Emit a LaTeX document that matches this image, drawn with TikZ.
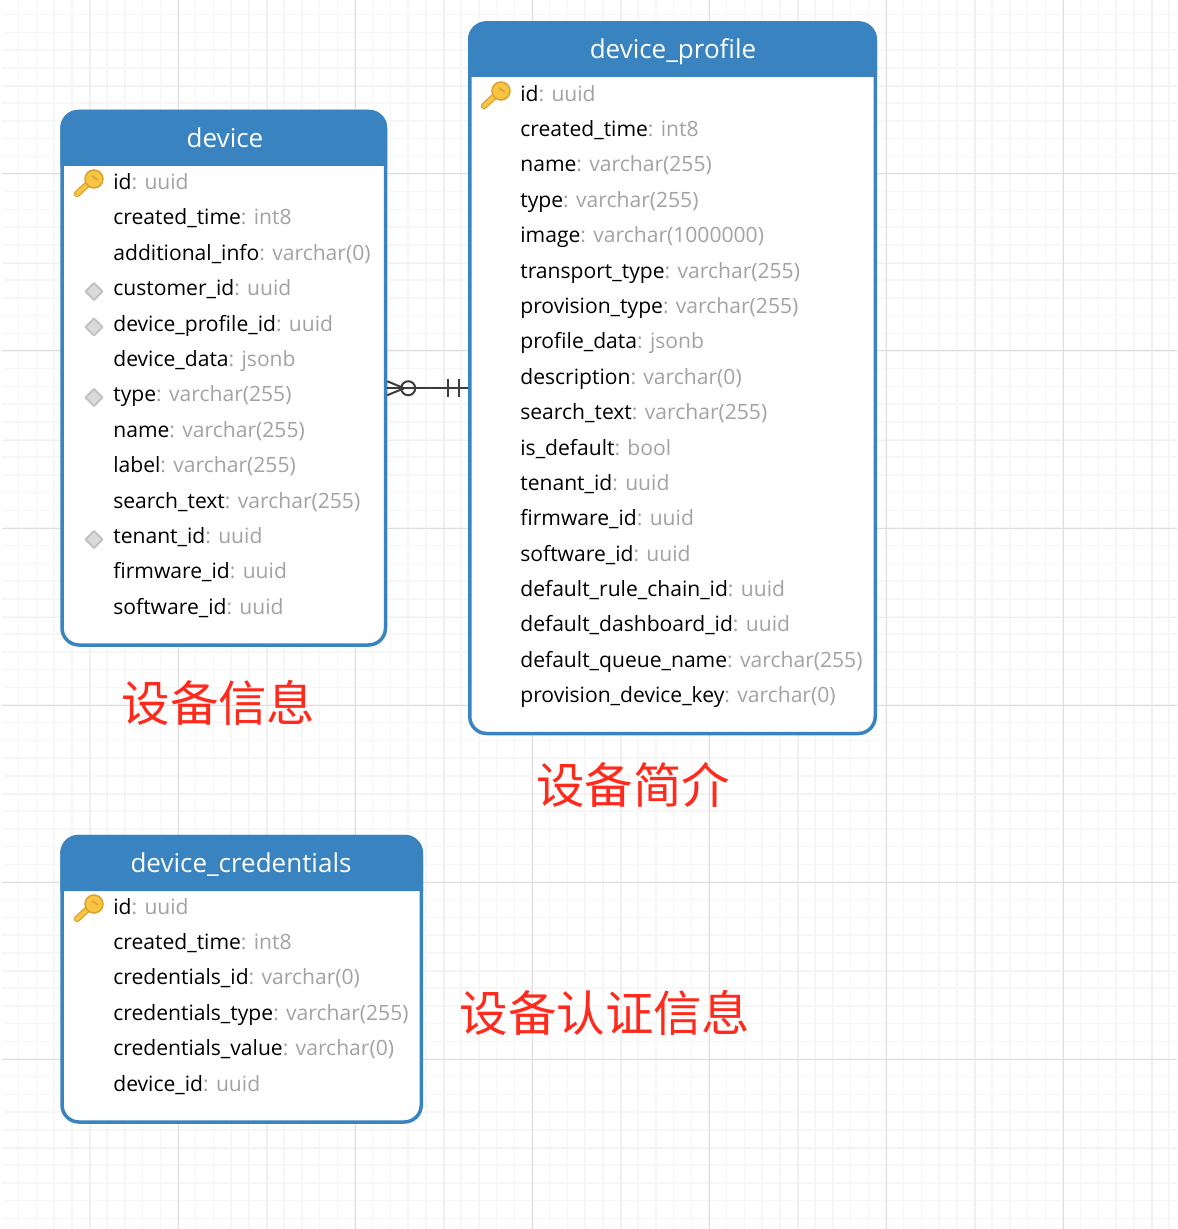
\documentclass[tikz,border=0pt]{standalone}
\usepackage{fontspec}
\setmainfont{Open Sans}
\newfontfamily\cjkfont{Noto Sans CJK SC}
\usetikzlibrary{calc}
\definecolor{tableblue}{HTML}{3983C0}
\definecolor{typegrey}{HTML}{A3A3A3}
\definecolor{keygold}{HTML}{F6C544}
\definecolor{keyedge}{HTML}{DDA02E}
\definecolor{fkfill}{HTML}{DADADA}
\definecolor{fkedge}{HTML}{C2C2C2}
\definecolor{linkgrey}{HTML}{3C3C3C}
\definecolor{labelred}{HTML}{FF2A1C}
\tikzset{
  tablebox/.style={draw=tableblue,line width=3.5*0.02cm,fill=white,rounded corners=17*0.02cm,inner sep=0pt,outer sep=0pt,anchor=north west},
  tabletitle/.style={text=white,anchor=base,font=\fontsize{14.8pt}{17pt}\selectfont},
  rowtext/.style={anchor=base west,inner sep=0pt,font=\fontsize{12pt}{15pt}\selectfont},
  cnlabel/.style={text=labelred,font=\cjkfont\fontsize{27.6pt}{32pt}\selectfont},
  linkline/.style={draw=linkgrey,line width=2*0.02cm},
  minorgrid/.style={draw=black!3.5,line width=1.5*0.02cm},
  midgrid/.style={draw=black!6,line width=1.5*0.02cm},
  majorgrid/.style={draw=black!13,line width=1*0.02cm},
  keyicon/.pic={
    \draw[keyedge,line width=6.5*0.02cm,line cap=round] (-12,10) -- (2,-3);
    \draw[keygold,line width=4*0.02cm,line cap=round] (-12,10) -- (2,-3);
    \fill[keygold,draw=keyedge,line width=1.5*0.02cm] (5,-5) circle (9);
    \draw[keyedge,line width=1.5*0.02cm] (3,-8) -- (9,-4);
  },
  fkicon/.pic={
    \fill[fkfill,draw=fkedge,line width=2*0.02cm,line join=round] (-8.5,0) -- (0,-8.5) -- (8.5,0) -- (0,8.5) -- cycle;
  }
}
\newcommand{\typ}[1]{\textcolor{typegrey}{#1}}
\begin{document}
\begin{tikzpicture}[x=0.02cm,y=-0.02cm]
\useasboundingbox (0,0) rectangle (1177,1229);
% grid
\foreach \x in {18.7,36.4,...,1177} \draw[minorgrid] (\x,0) -- (\x,1229);
\foreach \y in {14.7,32.4,...,1229} \draw[minorgrid] (2,\y) -- (1177,\y);
\foreach \x in {90,267,...,1177} \draw[midgrid] (\x,0) -- (\x,1229);
\foreach \y in {86.5,263.5,...,1229} \draw[midgrid] (2,\y) -- (1177,\y);
\foreach \x in {178,355,...,1177} \draw[majorgrid] (\x,0) -- (\x,1229);
\foreach \y in {174,351,...,1229} \draw[majorgrid] (2,\y) -- (1177,\y);

% device
\node[tablebox,minimum width=323.5*0.02cm,minimum height=533.5*0.02cm] (device) at (62,111.5) {};
\fill[tableblue] (60.3,166) [rounded corners=18*0.02cm] -- (60.3,109.8) -- (387.2,109.8) [sharp corners] -- (387.2,166) -- cycle;
\node[tabletitle] (devicetitle) at (225,148) {device};
\foreach \name/\type [count=\i from 0] in {id/uuid,created\_time/int8,additional\_info/varchar(0),customer\_id/uuid,device\_profile\_id/uuid,device\_data/jsonb,type/varchar(255),name/varchar(255),label/varchar(255),search\_text/varchar(255),tenant\_id/uuid,firmware\_id/uuid,software\_id/uuid}
  \node[rowtext] (device-\i) at (113,189.5+35.4*\i) {\name\typ{: \type}};
\pic at (89,184) {keyicon};
\pic at (94,291.5) {fkicon};
\pic at (94,327) {fkicon};
\pic at (94,397.5) {fkicon};
\pic at (94,539.5) {fkicon};

% device_profile
\node[tablebox,minimum width=405.5*0.02cm,minimum height=710.5*0.02cm] (profile) at (469.75,23) {};
\fill[tableblue] (468,77) [rounded corners=18*0.02cm] -- (468,21.3) -- (877,21.3) [sharp corners] -- (877,77) -- cycle;
\node[tabletitle] (profiletitle) at (673,59) {device\_profile};
\foreach \name/\type [count=\i from 0] in {id/uuid,created\_time/int8,name/varchar(255),type/varchar(255),image/varchar(1000000),transport\_type/varchar(255),provision\_type/varchar(255),profile\_data/jsonb,description/varchar(0),search\_text/varchar(255),is\_default/bool,tenant\_id/uuid,firmware\_id/uuid,software\_id/uuid,default\_rule\_chain\_id/uuid,default\_dashboard\_id/uuid,default\_queue\_name/varchar(255),provision\_device\_key/varchar(0)}
  \node[rowtext] (profile-\i) at (520,101.2+35.38*\i) {\name\typ{: \type}};
\pic at (496,96) {keyicon};

% device_credentials
\node[tablebox,minimum width=359.25*0.02cm,minimum height=285.5*0.02cm] (credentials) at (62,836.5) {};
\fill[tableblue] (60.3,891) [rounded corners=18*0.02cm] -- (60.3,834.8) -- (423,834.8) [sharp corners] -- (423,891) -- cycle;
\node[tabletitle] (credentialstitle) at (241,872) {device\_credentials};
\foreach \name/\type [count=\i from 0] in {id/uuid,created\_time/int8,credentials\_id/varchar(0),credentials\_type/varchar(255),credentials\_value/varchar(0),device\_id/uuid}
  \node[rowtext] (credentials-\i) at (113,914+35.4*\i) {\name\typ{: \type}};
\pic at (89,909) {keyicon};

% link
\coordinate (linkfrom) at ($(device.east)+(1.7,10)$);
\coordinate (linkto) at ($(device.east -| profile.west)+(-1.7,10)$);
\draw[linkline] (linkfrom) -- (linkto);
\draw[linkline] ($(linkfrom)+(0,-7)$) -- ($(linkfrom)+(17,0)$) -- ($(linkfrom)+(0,7)$);
\draw[linkline] ($(linkfrom)+(21,0)$) circle (7);
\draw[linkline] ($(linkto)+(-20,-9)$) -- ($(linkto)+(-20,9)$);
\draw[linkline] ($(linkto)+(-9,-9)$) -- ($(linkto)+(-9,9)$);

% labels
\node[cnlabel] (devicelabel) at (218.5,703) {设备信息};
\node[cnlabel] (profilelabel) at (633,785) {设备简介};
\node[cnlabel] (credentialslabel) at (605,1013) {设备认证信息};
\end{tikzpicture}
\end{document}
